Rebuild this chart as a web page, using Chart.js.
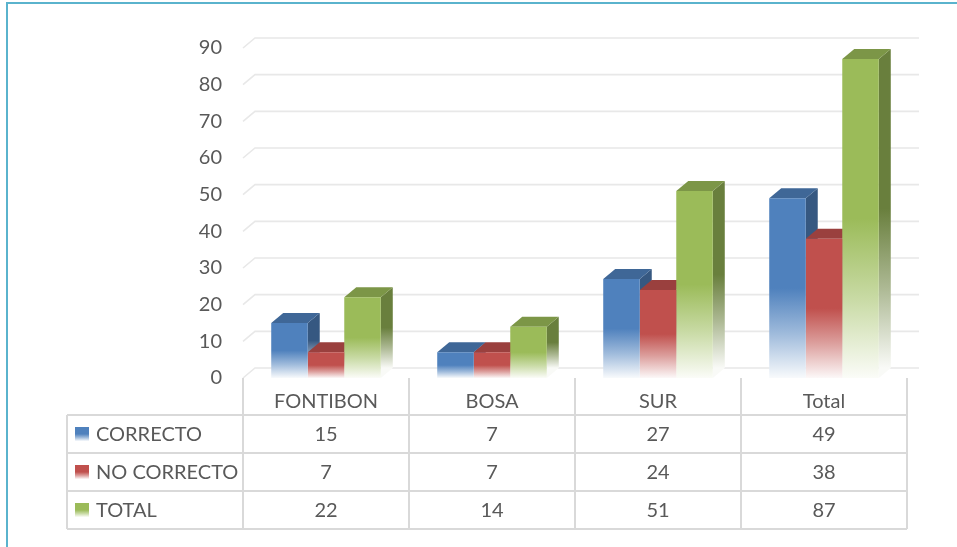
<!DOCTYPE html>
<html><head><meta charset="utf-8">
<script src="https://cdn.jsdelivr.net/npm/chart.js@4/dist/chart.umd.min.js"></script>
<style>
html,body{margin:0;padding:0;background:#fff;}
#wrap{position:relative;width:957px;height:547px;overflow:hidden;background:#fff;}
#frame{position:absolute;left:6px;top:2px;width:960px;height:560px;border-top:2px solid #5ab3cd;border-left:2px solid #5ab3cd;box-sizing:border-box;pointer-events:none;}
canvas{position:absolute;left:0;top:0;}
</style></head><body>
<div id="wrap"><canvas id="c" width="957" height="547"></canvas><div id="frame"></div></div>
<script>
// ---- data ----
const categories = ['FONTIBON', 'BOSA', 'SUR', 'Total'];
const seriesNames = ['CORRECTO', 'NO CORRECTO', 'TOTAL'];
const correcto = [15, 7, 27, 49];
const noCorrecto = [7, 7, 24, 38];
const total = [22, 14, 51, 87];
const yMin = 0, yMax = 90, yStep = 10;

// ---- styles ----
const FONT = 'Lato, "Open Sans", sans-serif';
const TEXT = '#595959';
const LINE = '#d9d9d9';
const DX = 12, DY = -10;
const baseColors = [[79,129,189],[192,80,77],[155,187,89]];
const seriesValues = [correcto, noCorrecto, total];

function shade(c, f){ return c.map(v => Math.round(v * f)); }
function mixW(c, t){ return 'rgb(' + c.map(v => Math.round(v + (255 - v) * t)).join(',') + ')'; }
function fadeGrad(ctx, top, bottom, c){
  const g = ctx.createLinearGradient(0, top, 0, bottom);
  g.addColorStop(0, mixW(c, 0));
  g.addColorStop(0.5, mixW(c, 0));
  g.addColorStop(0.75, mixW(c, 0.45));
  g.addColorStop(1, mixW(c, 0.96));
  return g;
}

function frontColor(si){
  return function(context){
    const chart = context.chart;
    if (!chart.chartArea || context.type !== 'data') return mixW(baseColors[si], 0);
    const ys = chart.scales.y;
    const top = ys.getPixelForValue(context.raw);
    const bottom = ys.getPixelForValue(0);
    if (bottom - top < 1) return mixW(baseColors[si], 0);
    return fadeGrad(chart.ctx, top, bottom, baseColors[si]);
  };
}

const backWall = {
  id: 'backWall',
  beforeDatasetsDraw(chart){
    const {ctx, chartArea, scales} = chart;
    const ys = scales.y;
    ctx.save();
    ctx.strokeStyle = '#e8e8e8';
    ctx.lineWidth = 1.6;
    for (let v = yMin; v <= yMax; v += yStep){
      const y = ys.getPixelForValue(v);
      ctx.beginPath();
      ctx.moveTo(chartArea.left, y);
      ctx.lineTo(chartArea.left + DX, y + DY);
      ctx.lineTo(chartArea.right + DX, y + DY);
      ctx.stroke();
    }
    // 3D faces (side, top) drawn behind the library's front faces
    for (let d = 0; d < chart.data.datasets.length; d++){
      const meta = chart.getDatasetMeta(d);
      const c = baseColors[d];
      meta.data.forEach(el => {
        const p = el.getProps(['x','y','base','width'], true);
        const x1 = p.x - p.width/2, x2 = p.x + p.width/2;
        const top = p.y, bottom = p.base;
        // side face
        ctx.fillStyle = fadeGrad(ctx, top + DY, bottom + DY, shade(c, 0.68));
        ctx.beginPath();
        ctx.moveTo(x2, top); ctx.lineTo(x2 + DX, top + DY);
        ctx.lineTo(x2 + DX, bottom + DY); ctx.lineTo(x2, bottom);
        ctx.closePath(); ctx.fill();
        // top face
        ctx.fillStyle = 'rgb(' + shade(c, 0.8).join(',') + ')';
        ctx.beginPath();
        ctx.moveTo(x1, top); ctx.lineTo(x1 + DX, top + DY);
        ctx.lineTo(x2 + DX, top + DY); ctx.lineTo(x2, top);
        ctx.closePath(); ctx.fill();
      });
    }
    ctx.restore();
  }
};

const dataTable = {
  id: 'dataTable',
  afterDraw(chart){
    const {ctx, chartArea, scales} = chart;
    const xs = scales.x;
    const half = (xs.getPixelForValue(1) - xs.getPixelForValue(0)) / 2;
    const tableLeft = 67;
    const headTop = chartArea.bottom;
    const rowTops = [415, 453, 491, 529];
    const colEdges = categories.map((_, i) => xs.getPixelForValue(i) - half);
    colEdges.push(xs.getPixelForValue(categories.length - 1) + half);
    const right = colEdges[colEdges.length - 1];
    ctx.save();
    ctx.strokeStyle = LINE;
    ctx.lineWidth = 2;
    ctx.beginPath();
    rowTops.forEach(y => { ctx.moveTo(tableLeft, y); ctx.lineTo(right, y); });
    ctx.moveTo(tableLeft, rowTops[0]); ctx.lineTo(tableLeft, rowTops[3]);
    colEdges.forEach(x => { ctx.moveTo(x, headTop); ctx.lineTo(x, rowTops[3]); });
    ctx.stroke();

    ctx.fillStyle = TEXT;
    ctx.font = '20px ' + FONT;
    ctx.textAlign = 'center';
    ctx.textBaseline = 'middle';
    categories.forEach((cat, i) => ctx.fillText(cat, xs.getPixelForValue(i), 402));
    seriesNames.forEach((name, r) => {
      const cy = (rowTops[r] + rowTops[r + 1]) / 2 + 1;
      const sq = 14;
      const sy = cy - sq/2 - 1;
      ctx.fillStyle = fadeGrad(ctx, sy, sy + sq, baseColors[r]);
      ctx.fillRect(75, sy, sq, sq);
      ctx.fillStyle = TEXT;
      ctx.textAlign = 'left';
      ctx.fillText(name, 96, cy);
      ctx.textAlign = 'center';
      seriesValues[r].forEach((v, i) => ctx.fillText(String(v), xs.getPixelForValue(i), cy));
    });
    ctx.restore();
  }
};

function build(){
  new Chart(document.getElementById('c'), {
    type: 'bar',
    data: {
      labels: categories,
      datasets: seriesNames.map((n, i) => ({
        label: n,
        data: seriesValues[i],
        backgroundColor: frontColor(i),
        borderWidth: 0,
        categoryPercentage: 0.66,
        barPercentage: 1.0
      }))
    },
    options: {
      responsive: false,
      animation: false,
      events: [],
      layout: { padding: { top: 48, right: 50, bottom: 169, left: 0 } },
      plugins: { legend: { display: false }, tooltip: { enabled: false } },
      scales: {
        x: { display: false, offset: true },
        y: {
          min: yMin, max: yMax,
          ticks: { stepSize: yStep, color: TEXT, font: { family: FONT, size: 20 }, padding: 21 },
          grid: { display: false, drawTicks: false },
          border: { display: false },
          afterFit(s){ s.width = 243; }
        }
      }
    },
    plugins: [backWall, dataTable]
  });
}
if (document.fonts && document.fonts.load){
  document.fonts.load('20px Lato').then(build, build);
} else build();
</script>
</body></html>
